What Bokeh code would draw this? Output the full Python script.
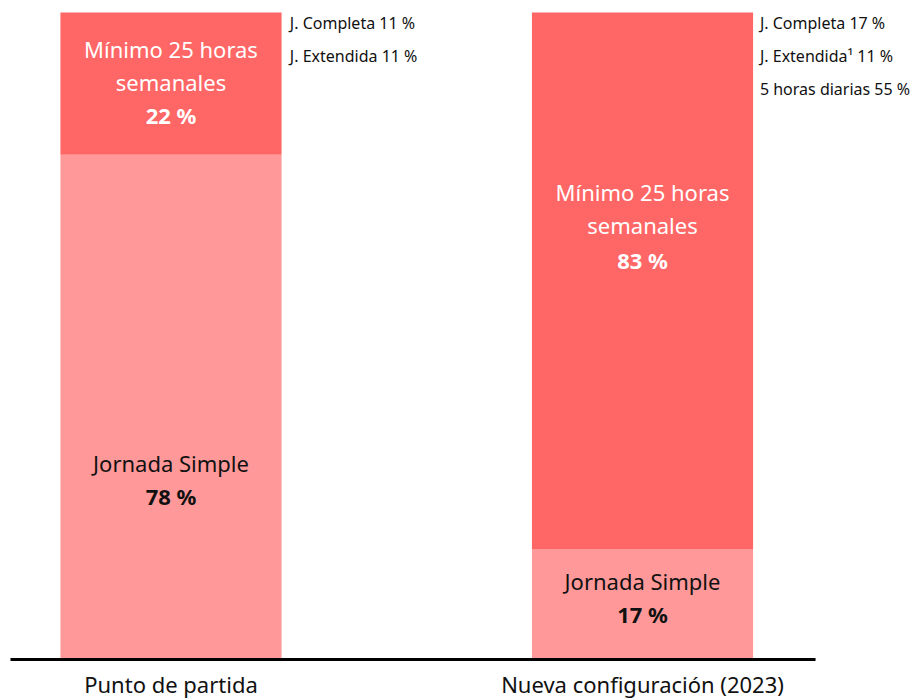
from bokeh.plotting import figure
from bokeh.models import Range1d, ColumnDataSource
from bokeh.core.properties import value
from bokeh.embed import file_html
from bokeh.resources import INLINE

# ---- data ----
categories = ["Punto de partida", "Nueva configuración (2023)"]
simple_pct = [78, 17]          # Jornada Simple
minimo_pct = [22, 83]          # Mínimo 25 horas semanales
detail_left = ["J. Completa 11 %", "J. Extendida 11 %"]
detail_right = ["J. Completa 17 %", "J. Extendida\u00b9 11 %", "5 horas diarias 55 %"]

FONT = "Noto Sans"
C_TOP = "#FF6666"
C_BOT = "#FF9999"

W, H = 912, 700
p = figure(width=W, height=H, output_backend="svg", toolbar_location=None,
           min_border=0, x_range=Range1d(-0.3616, 1.5726), y_range=Range1d(-6.337, 101.85))
p.axis.visible = False
p.grid.visible = False
p.outline_line_color = None
p.background_fill_color = "white"
p.border_fill_color = "white"

xs = [0, 1]
bw = 0.469
src = ColumnDataSource(dict(x=xs, simple=simple_pct,
                            top_all=[s + m for s, m in zip(simple_pct, minimo_pct)]))
p.vbar(x="x", width=bw, bottom=0, top="simple", source=src, fill_color=C_BOT, line_color=None)
p.vbar(x="x", width=bw, bottom="simple", top="top_all", source=src, fill_color=C_TOP, line_color=None)

# baseline
p.segment(x0=[-0.3404], y0=[0], x1=[1.367], y1=[0], line_color="black", line_width=3)

# in-bar labels (line positions in y units)
def lines(x, ys, texts, color, bolds):
    for y, t, b in zip(ys, texts, bolds):
        p.text(x=[x], y=[y], text=[t], text_align="center", text_baseline="middle",
               text_font=value(FONT), text_font_size="22px", text_color=color,
               text_font_style="bold" if b else "normal")

lines(0, [94.3, 89.3, 84.1], ["Mínimo 25 horas", "semanales", f"{minimo_pct[0]} %"], "white", [0, 0, 1])
lines(0, [30.4, 25.3], ["Jornada Simple", f"{simple_pct[0]} %"], "#111111", [0, 1])
lines(1, [72.3, 67.2, 61.8], ["Mínimo 25 horas", "semanales", f"{minimo_pct[1]} %"], "white", [0, 0, 1])
lines(1, [12.2, 7.0], ["Jornada Simple", f"{simple_pct[1]} %"], "#111111", [0, 1])

# side details
def details(x, texts):
    for i, t in enumerate(texts):
        p.text(x=[x], y=[98.4 - i * 5.1], text=[t], text_align="left", text_baseline="middle",
               text_font=value(FONT), text_font_size="16px", text_color="#111111")

details(0.252, detail_left)
details(1.249, detail_right)

# category labels
p.text(x=xs, y=[-3.85, -3.85], text=categories, text_align="center", text_baseline="middle",
       text_font=value(FONT), text_font_size="22px", text_color="#111111")

open("out.html", "w").write(file_html(p, INLINE))
